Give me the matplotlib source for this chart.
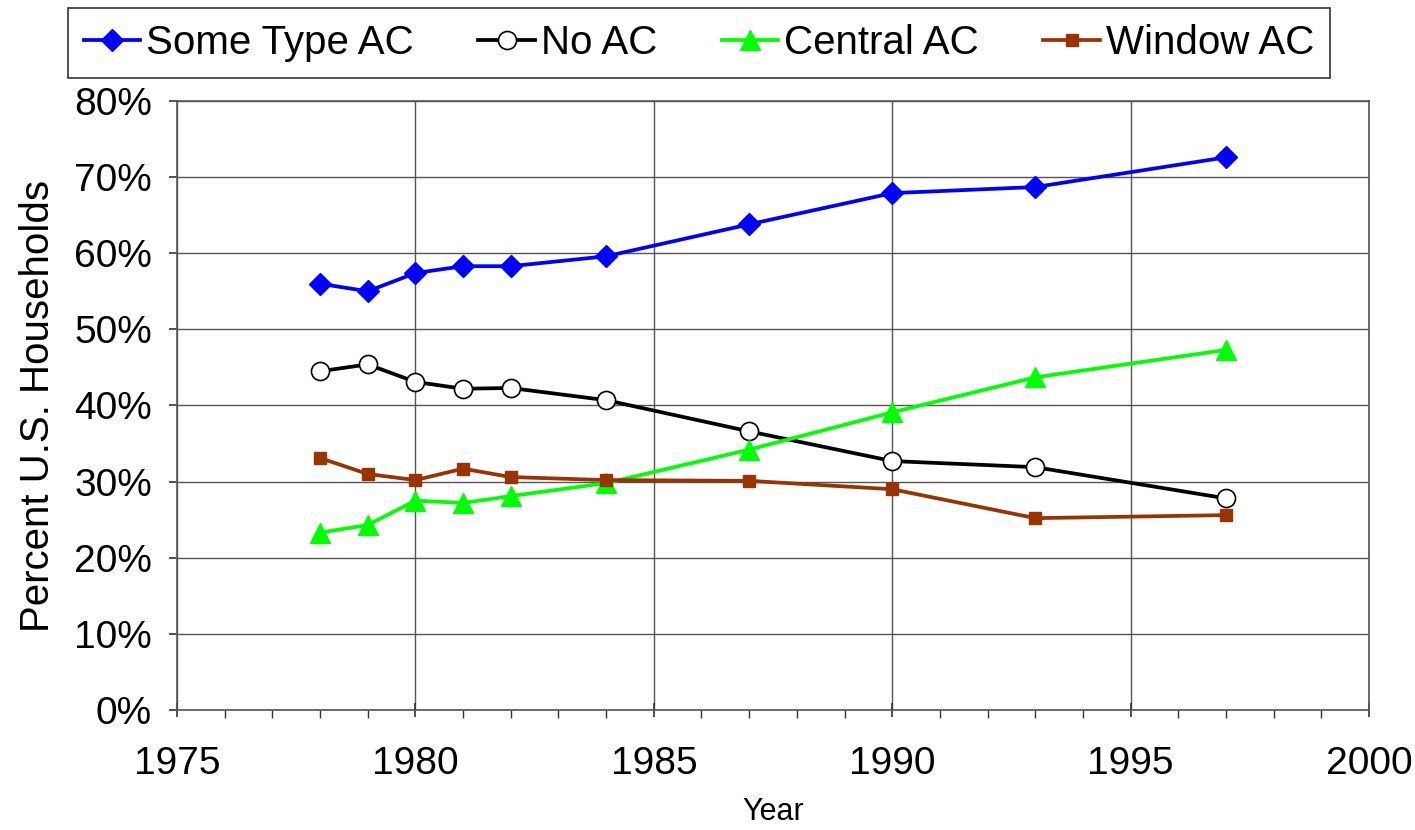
import matplotlib.pyplot as plt
from matplotlib.ticker import MultipleLocator, PercentFormatter

plt.rcParams['font.family'] = ['Liberation Sans', 'DejaVu Sans']

# Data (percent of U.S. households)
years = [1978, 1979, 1980, 1981, 1982, 1984, 1987, 1990, 1993, 1997]
some_type_ac = [56.0, 55.0, 57.4, 58.3, 58.3, 59.6, 63.8, 67.9, 68.7, 72.6]
no_ac = [44.5, 45.4, 43.1, 42.2, 42.3, 40.7, 36.6, 32.7, 31.9, 27.8]
central_ac = [23.3, 24.3, 27.5, 27.2, 28.1, 29.8, 34.2, 39.1, 43.7, 47.3]
window_ac = [33.1, 31.0, 30.2, 31.7, 30.6, 30.2, 30.1, 29.0, 25.2, 25.6]

fig = plt.figure(figsize=(14.15, 8.3), dpi=100)
ax = fig.add_axes([0.1251, 0.1446, 0.8424, 0.7337])

ax.plot(years, some_type_ac, color='#0000FF', lw=2.7, marker='D', ms=11,
        label='Some Type AC')
ax.plot(years, no_ac, color='black', lw=2.7, marker='o', ms=13,
        markerfacecolor='white', markeredgecolor='black', markeredgewidth=1.2,
        label='No AC')
ax.plot(years, central_ac, color='#00FF00', lw=2.7, marker='^', ms=15,
        label='Central AC')
ax.plot(years, window_ac, color='#993300', lw=2.7, marker='s', ms=9,
        label='Window AC')

ax.set_xlim(1975, 2000)
ax.set_ylim(0, 80)
ax.xaxis.set_major_locator(MultipleLocator(5))
ax.xaxis.set_minor_locator(MultipleLocator(1))
ax.yaxis.set_major_locator(MultipleLocator(10))
ax.yaxis.set_major_formatter(PercentFormatter(decimals=0))

ax.grid(True, which='major', color='#555555', lw=1.0)
ax.set_axisbelow(True)
for sp in ax.spines.values():
    sp.set_color('#555555')
    sp.set_linewidth(1.2)

ax.tick_params(axis='both', which='major', labelsize=28, direction='out',
               length=6, width=1.2, color='#333333')
ax.tick_params(axis='y', which='major', pad=12)
ax.tick_params(axis='x', which='major', direction='inout', length=10, pad=21)
ax.tick_params(axis='x', which='minor', direction='out', length=6, width=1.0,
               color='#333333')

ax.set_xlabel('Year', fontsize=22, labelpad=11)
ax.set_ylabel('Percent U.S. Households', fontsize=29, labelpad=12)

leg = fig.legend(loc='center', bbox_to_anchor=(0.494, 0.948), ncol=4,
                 fontsize=29, frameon=True, fancybox=False, edgecolor='black',
                 handlelength=1.4, handletextpad=0.15, columnspacing=1.6,
                 borderpad=0.4)
leg.get_frame().set_linewidth(1.2)

fig.savefig('out.png', dpi=100)
